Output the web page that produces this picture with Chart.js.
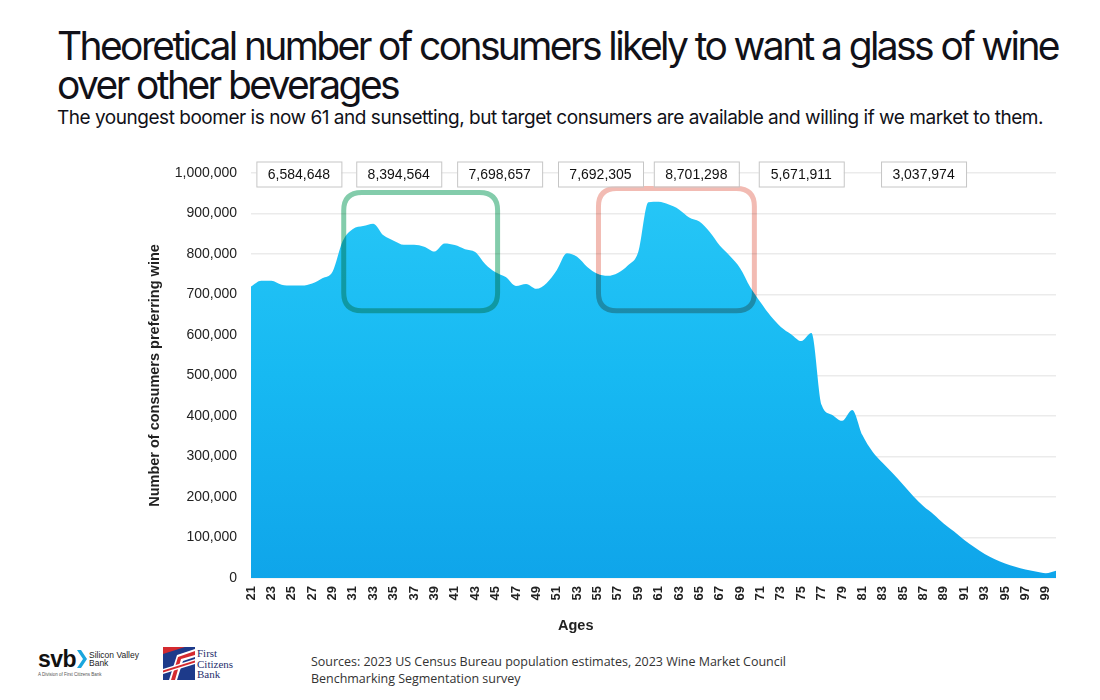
<!DOCTYPE html>
<html>
<head>
<meta charset="utf-8">
<script src="https://cdn.jsdelivr.net/npm/chart.js@4.4.1/dist/chart.umd.min.js"></script>
<style>
  html, body { margin: 0; padding: 0; background: #fff; }
  body { width: 1100px; height: 700px; position: relative; overflow: hidden; font-family: Inter, "Liberation Sans", sans-serif; color: #111118; }
  .txt { position: absolute; white-space: nowrap; }
  .title { left: 57px; font-size: 39px; line-height: 40px; font-weight: 400; }
  .subtitle { left: 57px; top: 108px; font-size: 19px; line-height: 20px; }
  .axis-x { left: 558px; top: 617px; font: bold 14.5px "Liberation Sans", Arial, sans-serif; color: #222; }
  .sources { left: 311px; font: 12.5px "Open Sans", "Noto Sans", sans-serif; color: #333; line-height: 17px; }
  #wrap { position: absolute; left: 0; top: 140px; width: 1100px; height: 500px; }
  .svb { position: absolute; left: 38px; top: 646px; }
  .svb .big { position: absolute; left: 0; top: 0; font: bold 23px "Liberation Sans", Arial, sans-serif; letter-spacing: -0.5px; color: #111; }
  .svb .small { position: absolute; left: 51px; top: 5px; font: 8.5px "Liberation Sans", Arial, sans-serif; line-height: 8px; color: #222; white-space: nowrap; }
  .svb .tiny { position: absolute; left: 0; top: 26px; font: 4.5px "Liberation Sans", Arial, sans-serif; color: #555; white-space: nowrap; }
  .fcb { position: absolute; left: 163px; top: 647px; }
  .fcb .name { position: absolute; left: 34px; top: 1px; font: 11px "Liberation Serif", "DejaVu Serif", serif; line-height: 10.5px; color: #1f2f6e; white-space: nowrap; }
</style>
</head>
<body>
<div class="txt title" id="t1" style="top:26px">Theoretical number of consumers likely to want a glass of wine</div>
<div class="txt title" id="t2" style="top:65px">over other beverages</div>
<div class="txt subtitle" id="sub">The youngest boomer is now 61 and sunsetting, but target consumers are available and willing if we market to them.</div>

<div id="wrap"><canvas id="wineChart" width="1100" height="500"></canvas></div>
<div class="txt axis-x">Ages</div>

<div class="svb">
  <div class="big">svb</div>
  <svg style="position:absolute;left:39px;top:4px" width="10" height="18"><polygon points="0,0 4,0 10,9 4,18 0,18 6,9" fill="#1aa6de"/></svg>
  <div class="small">Silicon Valley<br>Bank</div>
  <div class="tiny">A Division of First Citizens Bank</div>
</div>
<div class="fcb">
  <svg width="32" height="33" viewBox="0 0 32 33">
    <rect width="32" height="33" fill="#1d3a8a"/>
    <polygon points="6,33 14,8 32,2 32,10 20,14 14,33" fill="#fff"/>
    <polygon points="8,33 15,10 32,4 32,8 18,12 12,33" fill="#d42a2f"/>
    <polygon points="0,22 32,12 32,17 0,27" fill="#fff"/>
    <polygon points="0,23.5 32,13.5 32,15.5 0,25.5" fill="#d42a2f"/>
    <polygon points="0,0 22,0 0,7" fill="#d42a2f"/>
  </svg>
  <div class="name">First<br>Citizens<br>Bank</div>
</div>
<div class="txt sources" id="src1" style="top:653px">Sources: 2023 US Census Bureau population estimates, 2023 Wine Market Council</div>
<div class="txt sources" style="top:670px">Benchmarking Segmentation survey</div>

<script>
// ages 21..100
const ages = [21, 22, 23, 24, 25, 26, 27, 28, 29, 30,
  31, 32, 33, 34, 35, 36, 37, 38, 39, 40,
  41, 42, 43, 44, 45, 46, 47, 48, 49, 50,
  51, 52, 53, 54, 55, 56, 57, 58, 59, 60,
  61, 62, 63, 64, 65, 66, 67, 68, 69, 70,
  71, 72, 73, 74, 75, 76, 77, 78, 79, 80,
  81, 82, 83, 84, 85, 86, 87, 88, 89, 90,
  91, 92, 93, 94, 95, 96, 97, 98, 99, 100];

const consumers = [720000, 734000, 734000, 724000, 722000, 722000, 727000, 740000, 756000, 832000,
  862000, 869000, 875000, 846000, 833000, 823000, 823000, 818000, 806000, 826000,
  822000, 812000, 805000, 775000, 755000, 743000, 721000, 726000, 714000, 728000,
  760000, 802000, 793000, 768000, 751000, 746000, 753000, 772000, 805000, 928000,
  929000, 922000, 910000, 890000, 880000, 855000, 821000, 795000, 765000, 718000,
  681000, 647000, 620000, 602000, 585000, 605000, 427000, 403000, 388000, 415000,
  353000, 312000, 284000, 258000, 230000, 202000, 177000, 157000, 134000, 115000,
  94000, 76000, 59000, 46000, 36000, 28000, 21000, 16000, 12000, 18000];

const yTicks = [0, 100000, 200000, 300000, 400000, 500000, 600000, 700000, 800000, 900000, 1000000];

// totals shown in the boxes above the chart
const groupTotals = ['6,584,648', '8,394,564', '7,698,657', '7,692,305', '8,701,298', '5,671,911', '3,037,974'];

// fit the heading lines to the reference widths
function fitText(el, target) {
  const w = el.getBoundingClientRect().width;
  const sp = (target - w) / el.textContent.length;
  el.style.letterSpacing = sp + 'px';
  return sp;
}
const sp = fitText(document.getElementById('t1'), 1001);
document.getElementById('t2').style.letterSpacing = sp + 'px';
fitText(document.getElementById('sub'), 986);
const sp2 = fitText(document.getElementById('src1'), 475);
document.querySelectorAll('.sources').forEach(el => el.style.letterSpacing = sp2 + 'px');

function roundRect(ctx, x, y, w, h, r) {
  ctx.beginPath();
  ctx.moveTo(x + r, y);
  ctx.lineTo(x + w - r, y);
  ctx.quadraticCurveTo(x + w, y, x + w, y + r);
  ctx.lineTo(x + w, y + h - r);
  ctx.quadraticCurveTo(x + w, y + h, x + w - r, y + h);
  ctx.lineTo(x + r, y + h);
  ctx.quadraticCurveTo(x, y + h, x, y + h - r);
  ctx.lineTo(x, y + r);
  ctx.quadraticCurveTo(x, y, x + r, y);
  ctx.closePath();
}

const annotations = {
  id: 'annotations',
  afterDatasetsDraw(chart, args, opts) {
    const ctx = chart.ctx;
    const x = chart.scales.x, y = chart.scales.y;
    const ageX = a => x.getPixelForValue(a - ages[0]);

    // highlight frames
    ctx.save();
    ctx.globalCompositeOperation = 'multiply';
    ctx.globalAlpha = 0.78;
    opts.frames.forEach(f => {
      const l = ageX(f.from), r = ageX(f.to);
      const t = y.getPixelForValue(f.top), b = y.getPixelForValue(f.bottom);
      ctx.lineWidth = 5;
      ctx.strokeStyle = f.color;
      roundRect(ctx, l, t, r - l, b - t, 18);
      ctx.stroke();
    });
    ctx.restore();

    // total boxes
    ctx.save();
    ctx.font = '14px "Liberation Sans", Arial, sans-serif';
    ctx.textAlign = 'center';
    ctx.textBaseline = 'middle';
    const cy = y.getPixelForValue(yTicks[yTicks.length - 1]) + 1;
    groupTotals.forEach((txt, i) => {
      const cx = ageX(opts.boxAges[i]);
      ctx.fillStyle = '#fff';
      ctx.fillRect(cx - 42.5, cy - 12.5, 85, 25);
      ctx.strokeStyle = '#c6c6c6';
      ctx.lineWidth = 1;
      ctx.strokeRect(cx - 42.5 + 0.5, cy - 12.5 + 0.5, 85, 25);
      ctx.fillStyle = '#111';
      ctx.fillText(txt, cx, cy + 1);
    });
    ctx.restore();
  }
};

const ctx = document.getElementById('wineChart').getContext('2d');
const chart = new Chart(ctx, {
  type: 'line',
  data: {
    labels: ages.map(String),
    datasets: [{
      label: 'Consumers preferring wine',
      data: consumers,
      fill: 'origin',
      borderWidth: 0,
      pointRadius: 0,
      cubicInterpolationMode: 'monotone',
      backgroundColor: function (context) {
        const area = context.chart.chartArea;
        if (!area) return '#1ab8f0';
        const g = context.chart.ctx.createLinearGradient(0, area.top, 0, area.bottom);
        g.addColorStop(0, '#28c8f7');
        g.addColorStop(0.5, '#17b9f2');
        g.addColorStop(1, '#0fa5ea');
        return g;
      }
    }]
  },
  options: {
    responsive: false,
    animation: false,
    layout: { padding: { left: 140, right: 44, top: 33, bottom: 0 } },
    plugins: {
      legend: { display: false },
      tooltip: { enabled: false },
      annotations: {
        boxAges: [25.7, 35.5, 45.4, 55.3, 64.7, 75, 87],
        frames: [
          { from: 30.1, to: 45.2, top: 952000, bottom: 660000, color: 'rgb(96,190,148)' },
          { from: 55.1, to: 70.4, top: 962000, bottom: 660000, color: 'rgb(238,168,158)' }
        ]
      }
    },
    scales: {
      x: {
        grid: { display: false, drawTicks: false },
        border: { display: false },
        ticks: {
          autoSkip: false,
          minRotation: 90,
          maxRotation: 90,
          padding: 8,
          color: '#222',
          font: { family: '"Liberation Sans", Arial, sans-serif', size: 13, weight: 'bold' },
          callback: function (val, i) { return i % 2 === 0 ? this.getLabelForValue(val) : null; }
        },
        afterFit: function (scale) { scale.height = 62; }
      },
      y: {
        min: yTicks[0],
        max: yTicks[yTicks.length - 1],
        afterBuildTicks: function (scale) { scale.ticks = yTicks.map(v => ({ value: v })); },
        grid: { color: '#ebebeb', lineWidth: 1.5, drawTicks: false },
        border: { display: false },
        ticks: {
          padding: 14,
          color: '#222',
          font: { family: '"Liberation Sans", Arial, sans-serif', size: 14 },
          callback: v => v.toLocaleString('en-US')
        },
        title: {
          display: true,
          text: 'Number of consumers preferring wine',
          color: '#222',
          padding: { top: 6, bottom: 4 },
          font: { family: '"Liberation Sans", Arial, sans-serif', size: 14.5, weight: 'bold' }
        },
        afterFit: function (scale) { scale.width = 111; }
      }
    }
  },
  plugins: [annotations]
});
</script>
</body>
</html>
